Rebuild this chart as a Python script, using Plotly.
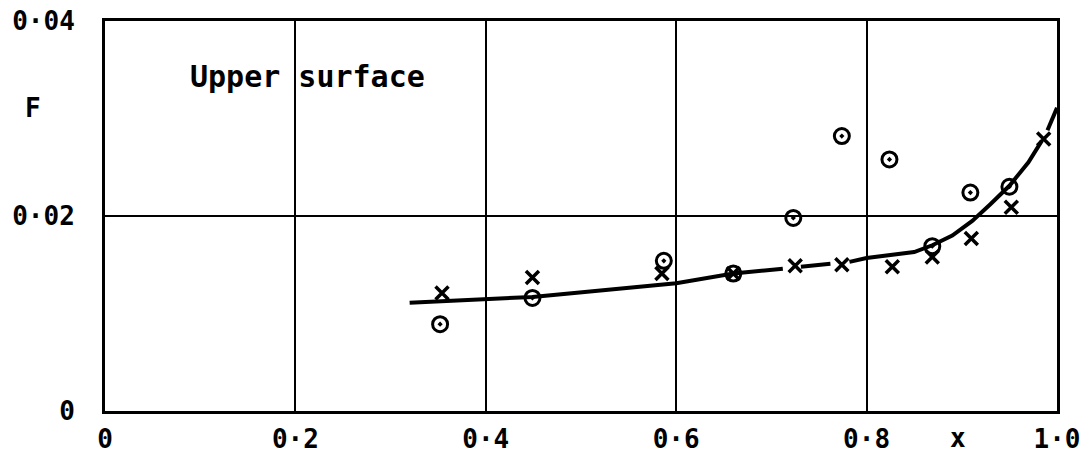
import plotly.graph_objects as go

# circles (⊙)
circle_x = [0.352, 0.449, 0.587, 0.660, 0.723, 0.774, 0.824, 0.869, 0.909, 0.950]
circle_y = [0.0089, 0.0116, 0.0154, 0.0141, 0.0198, 0.0282, 0.0258, 0.0169, 0.0224, 0.0230]

# crosses (x)
cross_x = [0.354, 0.449, 0.585, 0.660, 0.725, 0.774, 0.827, 0.869, 0.910, 0.952, 0.986]
cross_y = [0.0121, 0.0137, 0.0141, 0.0141, 0.0149, 0.0150, 0.0148, 0.0158, 0.0177, 0.0209, 0.0279]

# faired curve (None = pen gap)
curve_x = [0.320, 0.449, 0.600, 0.660, 0.712, None, 0.731, 0.762, None, 0.782, 0.800, 0.850,
           0.869, 0.890, 0.911, 0.930, 0.950, 0.970, 0.984, None, 0.990, 1.000]
curve_y = [0.0111, 0.0117, 0.0131, 0.0141, 0.0146, None, 0.0148, 0.0151, None, 0.0153, 0.0157, 0.0163,
           0.0170, 0.0180, 0.0195, 0.0212, 0.0231, 0.0255, 0.0277, None, 0.0288, 0.0311]

x_tickvals = [0, 0.2, 0.4, 0.6, 0.8, 1.0]
x_ticktext = ["0", "0·2", "0·4", "0·6", "0·8", "1·0"]
y_tickvals = [0, 0.02, 0.04]
y_ticktext = ["0", "0·02", "0·04"]

FONT = "DejaVu Sans Mono"
FS = 26

fig = go.Figure()
fig.add_trace(go.Scatter(x=curve_x, y=curve_y, mode="lines",
                         line=dict(color="black", width=4), connectgaps=False,
                         hoverinfo="skip", showlegend=False))
fig.add_trace(go.Scatter(x=cross_x, y=cross_y, mode="markers",
                         marker=dict(symbol="x-thin", size=13, color="black",
                                     line=dict(color="black", width=3.5)),
                         showlegend=False))
fig.add_trace(go.Scatter(x=circle_x, y=circle_y, mode="markers",
                         marker=dict(symbol="circle-open-dot", size=15, color="black",
                                     line=dict(color="black", width=3)),
                         showlegend=False))

fig.update_xaxes(range=[0, 1.0], tickvals=x_tickvals, ticktext=x_ticktext,
                 showgrid=True, gridcolor="black", gridwidth=2,
                 showline=True, linecolor="black", linewidth=3, mirror=True,
                 ticks="", ticklabelstandoff=3, zeroline=False, automargin=False,
                 tickfont=dict(family=FONT, size=FS, color="black", weight="bold"))
fig.update_yaxes(range=[0, 0.04], tickvals=y_tickvals, ticktext=y_ticktext,
                 showgrid=True, gridcolor="black", gridwidth=2,
                 showline=True, linecolor="black", linewidth=3, mirror=True,
                 ticks="", ticklabelstandoff=22, zeroline=False, automargin=False,
                 tickfont=dict(family=FONT, size=FS, color="black", weight="bold"))

w_plot = 1092 - 105 - 35
h_plot = 455 - 21 - 44

fig.add_annotation(text="Upper surface", x=0.087, y=0.0343, xref="x", yref="y",
                   xanchor="left", yanchor="middle", showarrow=False,
                   font=dict(family=FONT, size=30, color="black", weight="bold"))
fig.add_annotation(text="F", x=(33 - 105) / w_plot, y=(411 - 108) / h_plot,
                   xref="paper", yref="paper", showarrow=False,
                   xanchor="center", yanchor="middle",
                   font=dict(family=FONT, size=FS, color="black", weight="bold"))
fig.add_annotation(text="x", x=0.896, y=(411 - 438) / h_plot, xref="x", yref="paper",
                   showarrow=False, xanchor="center", yanchor="middle",
                   font=dict(family=FONT, size=FS, color="black", weight="bold"))

fig.update_layout(width=1092, height=455, plot_bgcolor="white", paper_bgcolor="white",
                  margin=dict(l=105, r=35, t=21, b=44))

fig.write_html("out.html", config={"displayModeBar": False},
               post_script="document.body.style.margin='0';")
